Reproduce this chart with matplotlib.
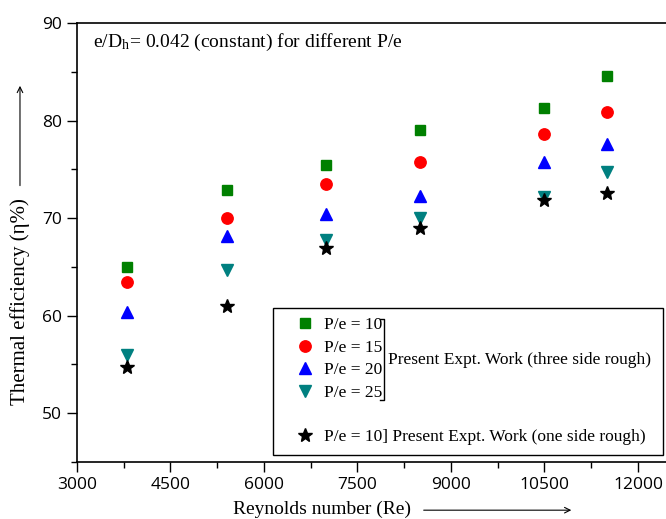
import numpy as np
import matplotlib
matplotlib.use('Agg')
import matplotlib.pyplot as plt
from matplotlib.lines import Line2D
from matplotlib.ticker import MultipleLocator

re = [3800, 5400, 7000, 8500, 10500, 11500]
eff_pe10 = [65.0, 72.9, 75.4, 79.0, 81.3, 84.6]
eff_pe15 = [63.5, 70.0, 73.5, 75.8, 78.6, 80.9]
eff_pe20 = [60.4, 68.2, 70.4, 72.3, 75.8, 77.6]
eff_pe25 = [56.0, 64.7, 67.8, 70.0, 72.2, 74.7]
eff_one_side = [54.7, 61.0, 66.9, 69.0, 71.9, 72.6]

plt.rcParams['font.family'] = 'Liberation Serif'
plt.rcParams['mathtext.fontset'] = 'stix'

W, H = 666, 519
fig = plt.figure(figsize=(W / 100, H / 100), dpi=100)
ax = fig.add_axes([77 / W, (H - 462) / H, (W - 77) / W, (462 - 23) / H])

ax.plot(re, eff_pe10, ls='none', marker='s', ms=7.2, color='#008000', label='P/e = 10')
ax.plot(re, eff_pe15, ls='none', marker='o', ms=8.2, color='#ff0000', label='P/e = 15')
ax.plot(re, eff_pe20, ls='none', marker='^', ms=9, color='#0000ff', label='P/e = 20')
ax.plot(re, eff_pe25, ls='none', marker='v', ms=9, color='#008080', label='P/e = 25')
ax.plot(re, eff_one_side, ls='none', marker='*', ms=10, color='black',
        label='P/e = 10] Present Expt. Work (one side rough)')

ax.set_xlim(3000, 12450)
ax.set_ylim(45, 90)
ax.xaxis.set_major_locator(MultipleLocator(1500))
ax.xaxis.set_minor_locator(MultipleLocator(750))
ax.yaxis.set_major_locator(MultipleLocator(10))
ax.yaxis.set_minor_locator(MultipleLocator(5))
ax.tick_params(which='major', direction='out', length=7, width=1, pad=4)
ax.tick_params(which='minor', direction='out', length=4, width=1)
ax.spines['right'].set_visible(False)
for s in ['left', 'bottom', 'top']:
    ax.spines[s].set_linewidth(1.2)
for lab in ax.get_xticklabels() + ax.get_yticklabels():
    lab.set_fontfamily('Open Sans')
    lab.set_fontsize(12.5)

handles, labels = ax.get_legend_handles_labels()
blank = Line2D([], [], ls='none')
handles = handles[:4] + [blank] + handles[4:]
labels = labels[:4] + [' '] + labels[4:]
leg = ax.legend(handles, labels, loc='lower left', mode='expand',
                bbox_to_anchor=(0.333, 0.016, 0.662, 0.335), borderaxespad=0,
                fontsize=12.5, frameon=True, fancybox=False, framealpha=1,
                edgecolor='black', handletextpad=-0.2, labelspacing=0.36,
                borderpad=0.55, handlelength=2.59)
leg.get_frame().set_linewidth(1.0)

# bracket joining the three side rough entries
fig.canvas.draw()
inv = ax.transAxes.inverted()
texts = leg.get_texts()
boxes = [t.get_window_extent() for t in texts[:4]]
xr = max(b.x1 for b in boxes) + 2
y_top = boxes[0].y1 - 2
y_bot = boxes[3].y0 + 1
(bx, by_top) = inv.transform((xr, y_top))
(_, by_bot) = inv.transform((xr, y_bot))
(bx0, _) = inv.transform((xr - 4, y_top))
ax.plot([bx0, bx, bx, bx0], [by_top, by_top, by_bot, by_bot], color='black',
        lw=1, transform=ax.transAxes, clip_on=False, zorder=10)
ax.text(bx + 0.006, (by_top + by_bot) / 2, 'Present Expt. Work (three side rough)',
        transform=ax.transAxes, fontsize=12.5, va='center', ha='left', zorder=10)

ax.text(0.027, 0.955, r'e/D$_\mathregular{h}$= 0.042 (constant) for different P/e',
        transform=ax.transAxes, fontsize=14, va='center', ha='left')

fig.text(0.030, 0.418, 'Thermal efficiency (\u03b7%)', rotation=90,
         fontsize=15, va='center', ha='center')
fig.text(0.484, 0.019, 'Reynolds number (Re)', fontsize=14, va='center', ha='center')
ax.annotate('', xy=(0.030, 0.840), xytext=(0.030, 0.637), xycoords='figure fraction',
            arrowprops=dict(arrowstyle='->', lw=0.8, color='black'))
ax.annotate('', xy=(0.862, 0.017), xytext=(0.632, 0.017), xycoords='figure fraction',
            arrowprops=dict(arrowstyle='->', lw=0.8, color='black'))

fig.savefig('out.png', dpi=100)
